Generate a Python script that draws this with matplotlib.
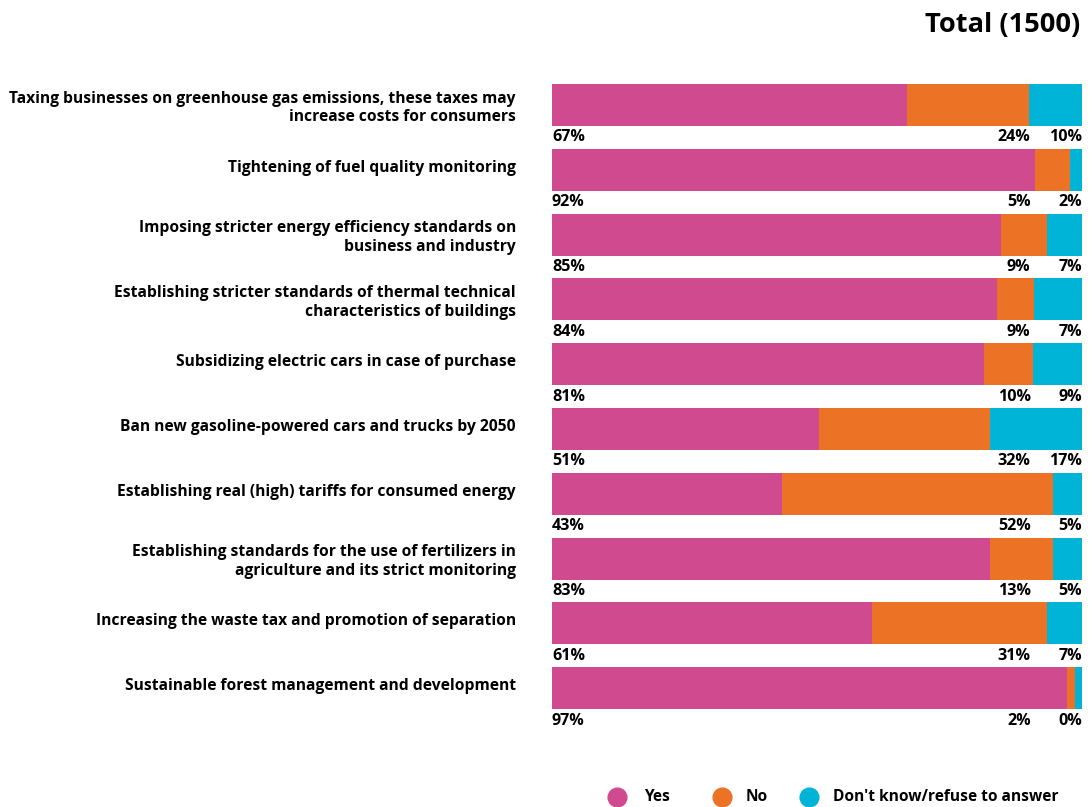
import matplotlib
matplotlib.use('Agg')
from matplotlib import pyplot as plt
from matplotlib.lines import Line2D

categories = [
    'Taxing businesses on greenhouse gas emissions, these taxes may\nincrease costs for consumers',
    'Tightening of fuel quality monitoring',
    'Imposing stricter energy efficiency standards on\nbusiness and industry',
    'Establishing stricter standards of thermal technical\ncharacteristics of buildings',
    'Subsidizing electric cars in case of purchase',
    'Ban new gasoline-powered cars and trucks by 2050',
    'Establishing real (high) tariffs for consumed energy',
    'Establishing standards for the use of fertilizers in\nagriculture and its strict monitoring',
    'Increasing the waste tax and promotion of separation',
    'Sustainable forest management and development',
]

# printed labels (rounded %)
yes_pct = [67, 92, 85, 84, 81, 51, 43, 83, 61, 97]
no_pct = [24, 5, 9, 9, 10, 32, 52, 13, 31, 2]
dk_pct = [10, 2, 7, 7, 9, 17, 5, 5, 7, 0]

# bar shares as drawn in the picture (unrounded, estimated)
yes_share = [67.0, 91.1, 84.7, 84.0, 81.5, 50.4, 43.4, 82.6, 60.4, 97.2]
no_share = [23.0, 6.6, 8.7, 7.0, 9.2, 32.3, 51.1, 11.9, 33.0, 1.5]
dk_share = [10.0, 2.3, 6.6, 9.1, 9.2, 17.4, 5.5, 5.5, 6.6, 1.3]

series = ['Yes', 'No', "Don't know/refuse to answer"]
colors = ['#D04A90', '#EC7225', '#00B4D8']

plt.rcParams['font.family'] = ['Open Sans', 'DejaVu Sans']
plt.rcParams['font.weight'] = 'bold'

W, H = 1090, 807
fig = plt.figure(figsize=(W / 100, H / 100), dpi=100)
ax = fig.add_axes([552 / W, 1 - 740 / H, 530 / W, 668 / H])
row_px = 64.8  # pixels per row

rows = list(range(len(categories)))
left = [0] * len(rows)
for share, col in zip([yes_share, no_share, dk_share], colors):
    tot = [s / (a + b + c) * 100 for s, a, b, c in zip(share, yes_share, no_share, dk_share)]
    ax.barh(rows, tot, left=left, height=0.65, color=col, linewidth=0)
    left = [l + t for l, t in zip(left, tot)]

for i in rows:
    y = i + 0.5
    ax.text(0, y, f'{yes_pct[i]}%', ha='left', va='center', fontsize=11.6, fontweight='bold')
    ax.text(90.3, y, f'{no_pct[i]}%', ha='right', va='center', fontsize=11.6, fontweight='bold')
    ax.text(100, y, f'{dk_pct[i]}%', ha='right', va='center', fontsize=11.6, fontweight='bold')
    off = 3 / row_px if '\n' in categories[i] else -2 / row_px
    ax.text(-6.8, i + off, categories[i], ha='right', va='center', fontsize=11.25,
            fontweight='bold', linespacing=1.22)

ax.set_xlim(0, 100)
ax.set_ylim(9.80, -0.509)
ax.axis('off')

fig.text(1080 / W, 1 - 25 / H, 'Total (1500)', ha='right', va='center', fontsize=19.6, fontweight='bold')

# legend, drawn by hand to match the spacing
leg_y = 1 - 797 / H
for x_dot, x_txt, lab, col in zip([617, 722, 809], [644, 746, 833], series, colors):
    fig.add_artist(Line2D([x_dot / W], [leg_y], transform=fig.transFigure, marker='o',
                          linestyle='', markersize=13.5, color=col))
    fig.text(x_txt / W, leg_y, lab, ha='left', va='center', fontsize=11.2, fontweight='bold')

fig.savefig('out.png', dpi=100, facecolor='white')
